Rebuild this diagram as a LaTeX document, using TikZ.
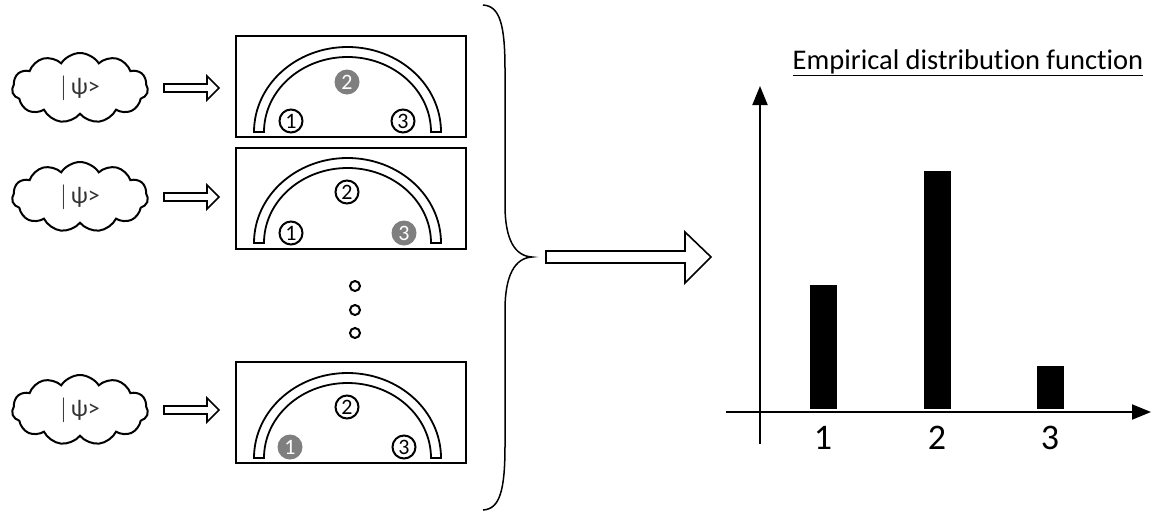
\documentclass[tikz,border=0pt]{standalone}
\usepackage{fontspec}
\setmainfont[Ligatures=NoCommon]{Carlito}
\usetikzlibrary{shapes.symbols,arrows.meta}
\definecolor{ballgrey}{HTML}{7F7F7F}
\begin{document}
\begin{tikzpicture}[x=1pt,y=-1pt,line width=2pt,
  psicloud/.style={cloud, draw, cloud puffs=11, cloud puff arc=115, aspect=2.0,
    minimum width=136pt, minimum height=70pt, inner sep=0pt,
    font=\fontsize{24}{24}\selectfont, text=black!80},
  detbox/.style={draw, minimum width=230pt, minimum height=101pt, inner sep=0pt},
  ball/.style={circle, draw, minimum size=23pt, inner sep=0pt, font=\fontsize{22}{22}\selectfont},
  hitball/.style={circle, fill=ballgrey, text=white, minimum size=25pt, inner sep=0pt, font=\fontsize{22}{22}\selectfont},
  hollow/.style={draw, line width=1.6pt, fill=white},
  arch/.style={draw, line width=1.8pt},
  bar/.style={fill=black},
  axis/.style={line width=2pt, -{Triangle[length=19pt,width=15pt]}},
  ticklabel/.style={font=\fontsize{36}{36}\selectfont},
  dot/.style={circle, draw, minimum size=10pt, inner sep=0pt}]
\useasboundingbox (0,0) rectangle (1155,515);

% clouds
\node[psicloud] (c1) at (80,88) {$|$\,ψ>};
\node[psicloud] (c2) at (80,197) {$|$\,ψ>};
\node[psicloud] (c3) at (80,410) {$|$\,ψ>};

% detector boxes
\node[detbox] (b1) at (351,86.5) {};
\node[detbox] (b2) at (351,198) {};
\node[detbox] (b3) at (351,412.5) {};

% arches
\foreach \cy in {132,243,458}{
  \draw[arch] (254,\cy) arc[start angle=180,end angle=360,x radius=93.5,y radius=85]
    -- (431,\cy) arc[start angle=0,end angle=-180,x radius=83.5,y radius=75] -- cycle;
}

% hollow arrows cloud -> box
\foreach \y in {88,197,410}{
  \draw[hollow] (164,\y-4) -- (207,\y-4) -- (207,\y-12) -- (219,\y) -- (207,\y+12)
    -- (207,\y+4) -- (164,\y+4) -- cycle;
}

% balls box 1
\node[ball] (b1n1) at (291,121) {1};
\node[hitball] (b1n2) at (347,82) {2};
\node[ball] (b1n3) at (403,121) {3};
% balls box 2
\node[ball] (b2n1) at (291,233) {1};
\node[ball] (b2n2) at (347,192) {2};
\node[hitball] (b2n3) at (404,233) {3};
% balls box 3
\node[hitball] (b3n1) at (290,447) {1};
\node[ball] (b3n2) at (347,407) {2};
\node[ball] (b3n3) at (404,447) {3};

% vertical dots
\node[dot] (d1) at (355,286) {};
\node[dot] (d2) at (355,310) {};
\node[dot] (d3) at (355,333) {};

% brace
\draw[line width=1.5pt] (483,5) .. controls (500,6) and (505,25) .. (505,70)
  -- (505,205) .. controls (505,240) and (515,256) .. (532,257)
  .. controls (515,258) and (505,275) .. (505,310)
  -- (505,445) .. controls (505,490) and (500,509) .. (483,510);

% big hollow arrow
\draw[hollow] (546,251) -- (685,251) -- (685,232) -- (711,257) -- (685,283)
  -- (685,263) -- (546,263) -- cycle;

% chart
\coordinate (yb) at (760,444);
\coordinate (yt) at (760,86);
\coordinate (xl) at (726,412);
\coordinate (xr) at (1151,412);
\draw[axis] (yb) -- (yt);
\draw[axis] (xl) -- (xr);

\fill[bar] (810,285) rectangle (837,409);
\fill[bar] (924,171) rectangle (951,409);
\fill[bar] (1037,366) rectangle (1064,409);

\node[ticklabel] (l1) at (823,438) {1};
\node[ticklabel] (l2) at (937,438) {2};
\node[ticklabel] (l3) at (1050,438) {3};

\node[font=\fontsize{28.5}{28.5}\selectfont] (title) at (968,63) {\underline{Empirical distribution function}};
\end{tikzpicture}
\end{document}
